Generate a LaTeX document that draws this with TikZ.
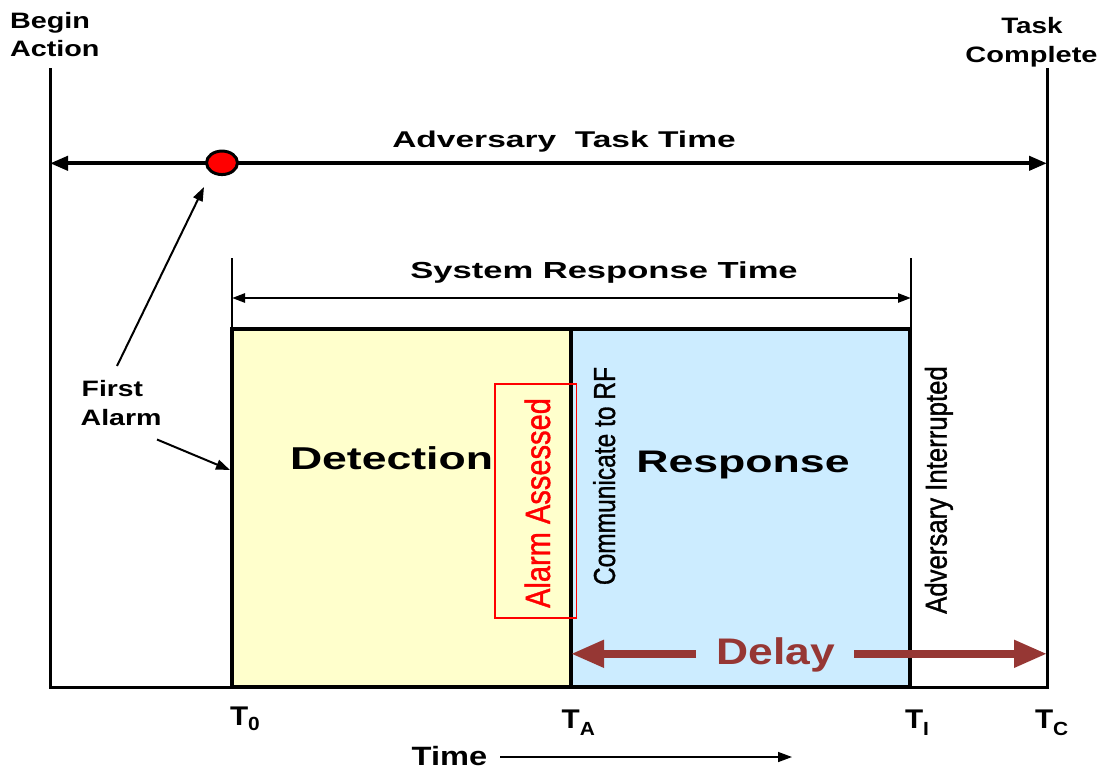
\documentclass[tikz,border=0pt]{standalone}
\usepackage{fontspec}
\setmainfont{Liberation Sans}
\newfontfamily\semifont[FakeBold=1.2]{Liberation Sans}
\usetikzlibrary{arrows.meta,shapes.geometric}
\definecolor{detfill}{RGB}{255,255,204}
\definecolor{resfill}{RGB}{204,236,255}
\definecolor{delayred}{RGB}{150,55,52}
\newcommand\fs[1]{\fontsize{#1}{#1}\selectfont}
\newcommand\hs[2]{\scalebox{#1}[1]{#2}}
\begin{document}
\begin{tikzpicture}[x=1pt,y=1pt,
  txt/.style={inner sep=0pt, outer sep=0pt, anchor=base},
  txtw/.style={inner sep=0pt, outer sep=0pt, anchor=base west},
  rtxt/.style={inner sep=0pt, outer sep=0pt, anchor=base, rotate=90, font=\semifont},
  phase/.style={draw, line width=3.5, inner sep=0pt, outer sep=0pt, minimum width=339, minimum height=358, anchor=south west},
  bothtip/.style={{Triangle[length=18pt,width=14pt]}-{Triangle[length=18pt,width=14pt]}},
  midtip/.style={{Triangle[length=13pt,width=9pt]}-{Triangle[length=13pt,width=9pt]}},
  thintip/.style={-{Triangle[length=14pt,width=10pt]}},
  delaytip/.style={-{Triangle[length=33pt,width=26pt]}, line width=7.5, draw=delayred}]
\useasboundingbox (0,0) rectangle (1104,-769);

% coordinates
\coordinate (bl) at (50,-68);
\coordinate (blb) at (50,-687);
\coordinate (brb) at (1047,-687);
\coordinate (br) at (1047,-68);
\coordinate (atl) at (50,-163.3);
\coordinate (atr) at (1047,-163.3);
\coordinate (srl) at (232,-298);
\coordinate (srr) at (911,-298);
\coordinate (srlt) at (232,-258);
\coordinate (srrt) at (911,-258);
\coordinate (srlb) at (232,-329);
\coordinate (srrb) at (911,-329);

% phase boxes
\node (det) [phase, fill=detfill] at (232,-687) {};
\node (res) [phase, fill=resfill] at (571,-687) {};

% outer frame
\draw[line width=3] (bl) -- (blb) -- (brb) -- (br);

% adversary task time arrow
\draw[line width=4, bothtip] (atl) -- (atr);
\node (att) [txt] at (564,-147.3) {\fs{22.8}\bfseries\hs{1.47}{Adversary~~Task Time}};
\node (alarm) [ellipse, draw, line width=3, fill=red, minimum width=31, minimum height=23.5, inner sep=0pt] at (222,-162.8) {};

% system response time
\draw[line width=1.8] (srlt) -- (srlb);
\draw[line width=1.8] (srrt) -- (srrb);
\draw[line width=2.5, midtip] (srl) -- (srr);
\node (srt) [txt] at (604,-278.3) {\fs{23.2}\bfseries\hs{1.49}{System Response Time}};

% labels top
\node (begin) [txtw] at (10,-28.3) {\fs{22.3}\bfseries\hs{1.29}{Begin}};
\node (action) [txtw] at (10,-56) {\fs{22.3}\bfseries\hs{1.29}{Action}};
\node (task) [txt] at (1032,-33.3) {\fs{22.3}\bfseries\hs{1.25}{Task}};
\node (complete) [txt] at (1031.5,-62.5) {\fs{22.3}\bfseries\hs{1.3}{Complete}};

% first alarm
\node (first) [txtw] at (81.7,-396.7) {\fs{22.3}\bfseries\hs{1.27}{First}};
\node (alarmlbl) [txtw] at (80.7,-425) {\fs{22.3}\bfseries\hs{1.28}{Alarm}};
\coordinate (fa1) at (117,-366);
\coordinate (fa1e) at (204,-187);
\coordinate (fa2) at (157,-439.5);
\coordinate (fa2e) at (230,-470);
\draw[line width=2, thintip] (fa1) -- (fa1e);
\draw[line width=2, thintip] (fa2) -- (fa2e);

% phase labels
\node (dett) [txt] at (391.5,-469.3) {\fs{31.6}\bfseries\hs{1.41}{Detection}};
\node (rest) [txt] at (743,-472.3) {\fs{31.2}\bfseries\hs{1.43}{Response}};

% alarm assessed
\node (aabox) [draw=red, line width=1.3, minimum width=81.7, minimum height=234, inner sep=0pt] at (535.9,-501) {};
\node (aat) [rtxt, text=red] at (550,-503) {\fs{35}\hs{0.83}{Alarm Assessed}};
\node (comm) [rtxt] at (615,-476) {\fs{30.3}\hs{0.81}{Communicate to RF}};
\node (advi) [rtxt] at (946.7,-490) {\fs{30.3}\hs{0.85}{Adversary Interrupted}};

% delay
\coordinate (dl1) at (696,-653.8);
\coordinate (dl1e) at (571,-653.8);
\coordinate (dl2) at (854,-653.8);
\coordinate (dl2e) at (1047,-653.8);
\draw[delaytip] (dl1) -- (dl1e);
\draw[delaytip] (dl2) -- (dl2e);
\node (delay) [txt, text=delayred] at (776,-664.6) {\fs{37}\bfseries\hs{1.2}{Delay}};

% time axis labels
\node (t0) [txtw] at (230,-725) {\fs{27}\bfseries\hs{1.1}{T}\raisebox{-5pt}{\fs{19}\hs{1.1}{0}}};
\node (ta) [txtw] at (561.7,-728) {\fs{27}\bfseries\hs{1.1}{T}\raisebox{-7pt}{\fs{19}\hs{1.1}{A}}};
\node (ti) [txtw] at (905,-728) {\fs{27}\bfseries\hs{1.1}{T}\raisebox{-7pt}{\fs{19}\hs{1.1}{I}}};
\node (tc) [txtw] at (1035,-728) {\fs{27}\bfseries\hs{1.1}{T}\raisebox{-7pt}{\fs{19}\hs{1.1}{C}}};

\node (time) [txtw] at (411.7,-765) {\fs{26.5}\bfseries\hs{1.23}{Time}};
\coordinate (tm1) at (500,-757);
\coordinate (tm1e) at (792,-757);
\draw[line width=1.5, thintip] (tm1) -- (tm1e);
\end{tikzpicture}
\end{document}
